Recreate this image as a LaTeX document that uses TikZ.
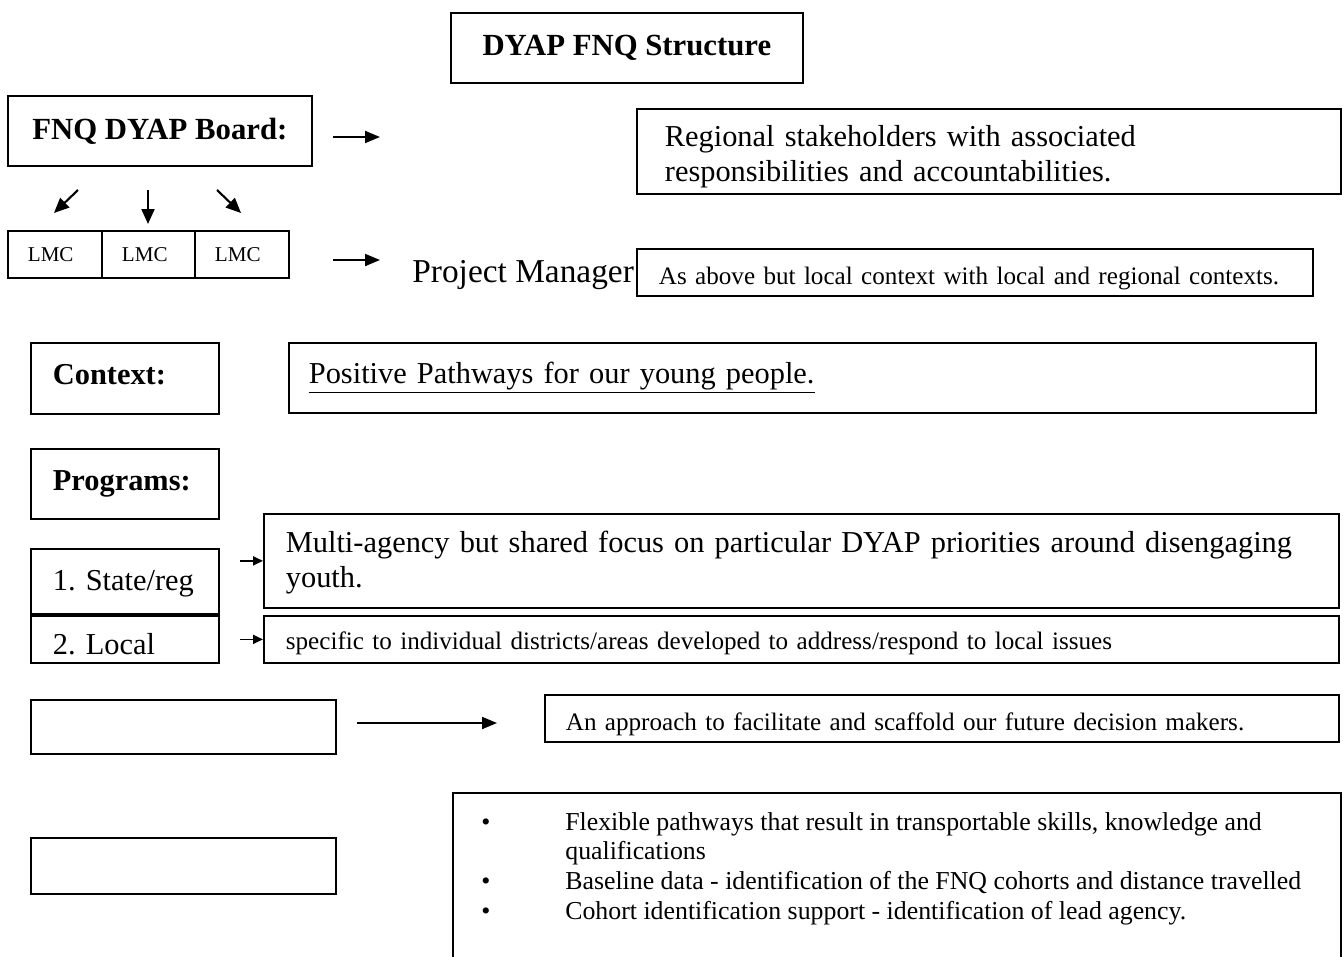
\documentclass[tikz,border=0pt]{standalone}
\usepackage{fontspec}
\setmainfont{Liberation Serif}
\usetikzlibrary{arrows.meta}
\frenchspacing

\begin{document}
\begin{tikzpicture}[x=0.02cm, y=-0.02cm,
  box/.style={draw, line width=1pt, anchor=north west, inner sep=0pt},
  headbox/.style={box, align=center, font=\fontsize{17.5}{20}\selectfont\bfseries},
  labbox/.style={box, align=left, inner xsep=0.44cm, text width=2.88cm, text depth=0pt,
                 font=\fontsize{17.3}{20}\selectfont},
  lmcbox/.style={box, align=left, inner xsep=0.4cm, text width=1.08cm,
                 minimum height=0.94cm, font=\fontsize{12}{14}\selectfont},
  bigtext/.style={font=\fontsize{17.3}{19.5}\selectfont},
  smalltext/.style={font=\fontsize{14.3}{17}\selectfont, text depth=0pt},
  bigarrow/.style={line width=1.1pt, -{Triangle[length=0.3cm, width=0.24cm]}},
  smallarrow/.style={line width=1pt, -{Triangle[length=0.2cm, width=0.18cm]}},
]
  \useasboundingbox (0,0) rectangle (1344,956);

  % Title and board
  \node[headbox, minimum width=7.04cm, minimum height=1.4cm] (title) at (450,12) {DYAP FNQ Structure};
  \node[headbox, minimum width=6.08cm, minimum height=1.4cm] (board) at (7,95) {FNQ DYAP Board:};
  \node[box, bigtext, align=left, inner xsep=0.56cm, text width=12.96cm, minimum height=1.7cm,
        text height=0.5cm, text depth=0.68cm]
    (region) at (636,108) {Regional stakeholders with associated\\responsibilities and accountabilities.};

  % LMCs
  \node[lmcbox, minimum width=1.88cm] (lmc1) at (7,230) {LMC};
  \node[lmcbox, minimum width=1.86cm, text width=1.06cm] (lmc2) at (101,230) {LMC};
  \node[lmcbox, minimum width=1.88cm] (lmc3) at (194,230) {LMC};

  \coordinate (a1s) at (78,190);  \coordinate (a1e) at (54,213);
  \coordinate (a2s) at (148,190); \coordinate (a2e) at (148,224);
  \coordinate (a3s) at (217,190); \coordinate (a3e) at (241,213);
  \foreach \i in {1,2,3}
    \draw[line width=1.2pt, -{Triangle[length=0.3cm, width=0.26cm]}] (a\i s) -- (a\i e);

  \node[anchor=base west, inner sep=0pt, font=\fontsize{19}{22}\selectfont] (pm) at (412,282) {Project Manager};
  \node[box, smalltext, align=left, inner xsep=0.44cm, text width=12.64cm, minimum height=0.94cm,
        text height=0.5cm]
    (local) at (636,248) {As above but local context with local and regional contexts.};

  \coordinate (b1s) at (333,137); \coordinate (b1e) at (380,137);
  \coordinate (b2s) at (333,260); \coordinate (b2e) at (380,260);
  \draw[bigarrow] (b1s) -- (b1e);
  \draw[bigarrow] (b2s) -- (b2e);

  % Context and programs
  \node[labbox, minimum height=1.42cm, text height=0.26cm] (ctx) at (30,342) {\bfseries Context:};
  \node[box, bigtext, align=left, inner xsep=0.4cm, text width=19.74cm, minimum height=1.4cm]
    (paths) at (288,342) {\underline{Positive Pathways for our young people.}};
  \node[labbox, minimum height=1.4cm, text height=0.28cm] (prog) at (30,448) {\bfseries Programs:};

  \node[labbox, minimum height=1.3cm, text height=0.38cm] (state) at (30,548) {1. State/reg};
  \node[labbox, minimum height=0.96cm, text height=0.64cm] (lprog) at (30,614) {2. Local};
  \draw[line width=2.2pt] (state.south west) -- (state.south east);

  \node[box, bigtext, align=left, inner xsep=0.44cm, text width=20.62cm, minimum height=1.88cm,
        text height=0.5cm, text depth=0.82cm]
    (multi) at (263,513) {Multi-agency but shared focus on particular DYAP priorities around disengaging\\youth.};
  \node[box, smalltext, align=left, inner xsep=0.44cm, text width=20.62cm, minimum height=0.94cm,
        text height=0.42cm]
    (spec) at (263,615) {specific to individual districts/areas developed to address/respond to local issues};
  \draw[smallarrow] ([xshift=-0.46cm]multi.west) -- (multi.west);
  \draw[smallarrow] ([xshift=-0.46cm]spec.west) -- (spec.west);

  % Lower boxes
  \node[box, minimum width=6.1cm, minimum height=1.08cm] (empty1) at (30,699) {};
  \node[box, smalltext, align=left, inner xsep=0.42cm, text width=15.04cm, minimum height=0.94cm,
        text height=0.5cm]
    (appr) at (544,694) {An approach to facilitate and scaffold our future decision makers.};
  \coordinate (c1s) at (357,723); \coordinate (c1e) at (497,723);
  \draw[bigarrow] (c1s) -- (c1e);

  \node[box, minimum width=6.1cm, minimum height=1.12cm] (empty2) at (30,837) {};
  \node[box, minimum width=17.76cm, minimum height=3.6cm] (bullets) at (452,792) {};
  \node[anchor=base west, inner sep=0pt, font=\fontsize{14.7}{17}\selectfont] (blist) at (481,830) {%
    \begin{tabular}[t]{@{}p{1.68cm}@{}l@{}}
      \textbullet & Flexible pathways that result in transportable skills, knowledge and\\
                  & qualifications\\
      \textbullet & Baseline data - identification of the FNQ cohorts and distance travelled\\
      \textbullet & Cohort identification support - identification of lead agency.
    \end{tabular}};
\end{tikzpicture}
\end{document}
